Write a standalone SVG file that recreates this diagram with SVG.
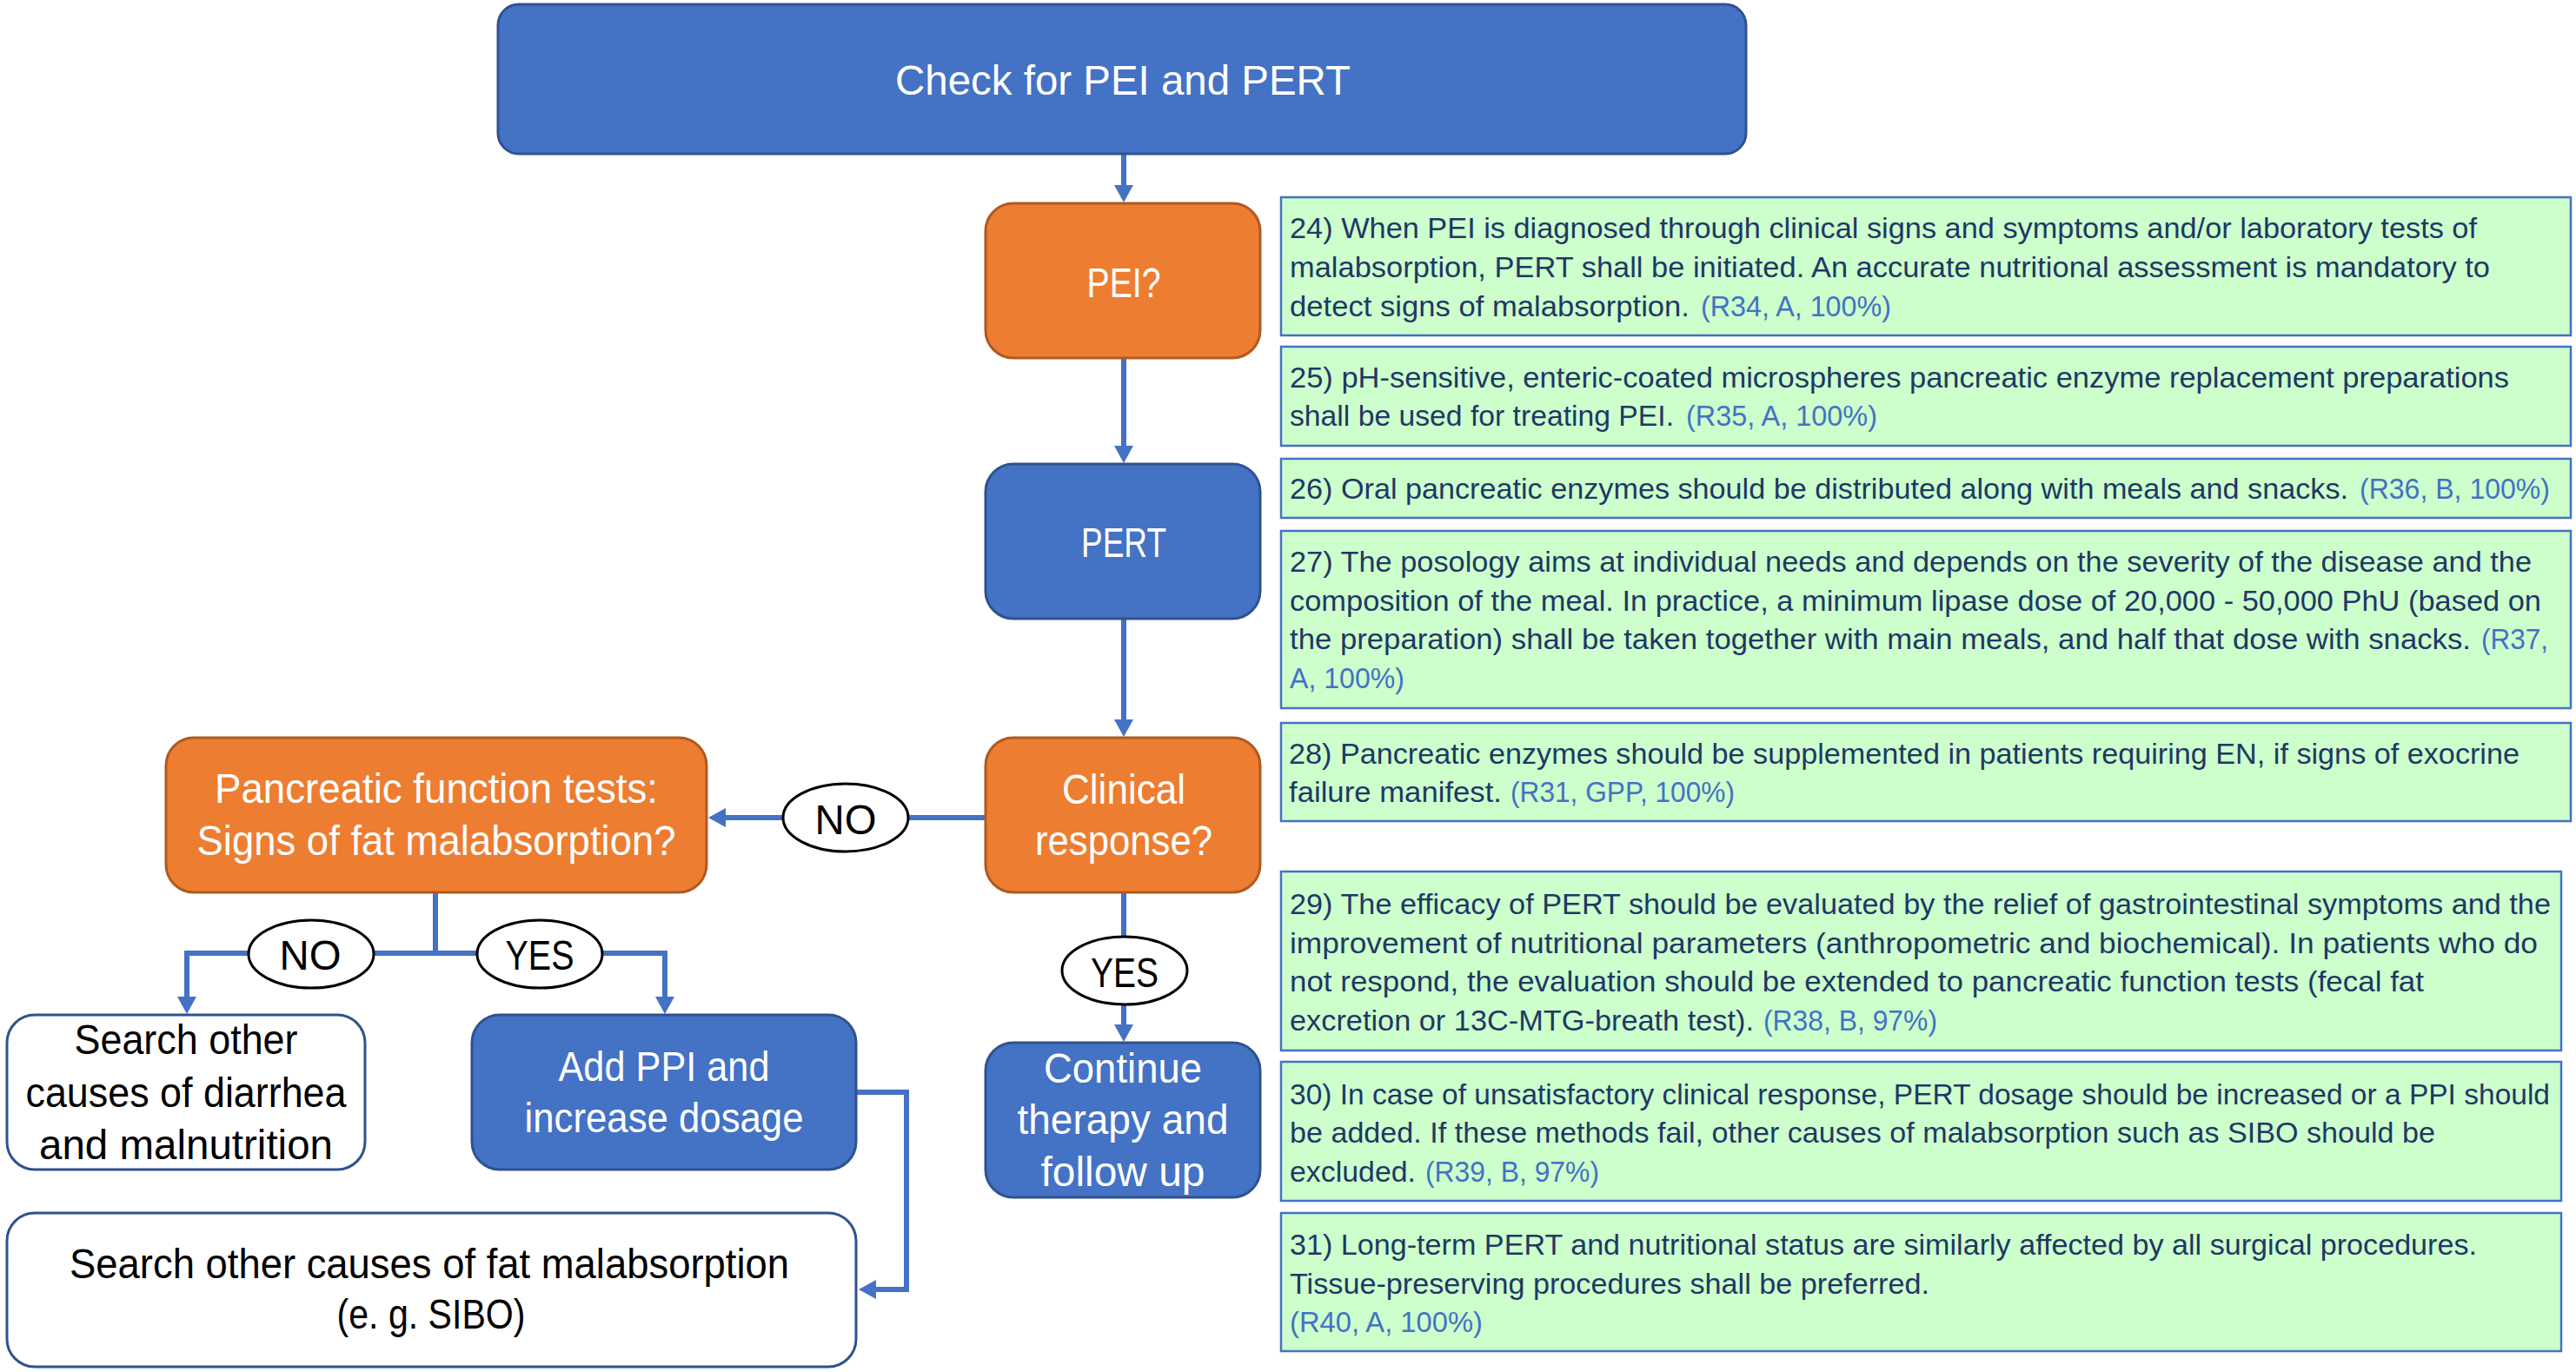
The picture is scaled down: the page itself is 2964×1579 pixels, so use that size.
<svg xmlns="http://www.w3.org/2000/svg" width="2964" height="1579" viewBox="0 0 2964 1579">
<style>
.blue{fill:#4472C4;stroke:#2F528F;stroke-width:3}
.orange{fill:#ED7D31;stroke:#AE5A21;stroke-width:3}
.white{fill:#FFFFFF;stroke:#2F528F;stroke-width:3}
.note{fill:#CCFFCC;stroke:#4472C4;stroke-width:2.5}
.lab{fill:#FFFFFF;stroke:#000000;stroke-width:3}
.conn{fill:none;stroke:#4472C4;stroke-width:6}
text{font-family:"Liberation Sans",Arial,sans-serif}
.nt{font-size:48px;fill:#FFFFFF;text-anchor:middle}
.nk{font-size:48px;fill:#000000;text-anchor:middle}
.d{font-size:34px;fill:#1F3864}
.r{font-size:34px;fill:#4472C4}
</style>
<defs>
<marker id="ah" markerUnits="userSpaceOnUse" markerWidth="20" markerHeight="22" refX="0" refY="11" orient="auto">
<path d="M0,0 L20,11 L0,22 z" fill="#4472C4"/>
</marker>
</defs>
<rect width="2964" height="1579" fill="#FFFFFF"/>

<g id="connectors">
<path class="conn" d="M1293,178 V213" marker-end="url(#ah)"/>
<path class="conn" d="M1293,412 V513" marker-end="url(#ah)"/>
<path class="conn" d="M1293,712 V828" marker-end="url(#ah)"/>
<path class="conn" d="M1134,941 H835" marker-end="url(#ah)"/>
<path class="conn" d="M501,1027 V1097"/>
<path class="conn" d="M504,1097 H215 V1147" marker-end="url(#ah)"/>
<path class="conn" d="M498,1097 H765 V1147" marker-end="url(#ah)"/>
<path class="conn" d="M1293,1027 V1179" marker-end="url(#ah)"/>
<path class="conn" d="M985,1257 H1043 V1484 H1008" marker-end="url(#ah)"/>
</g>

<g id="n-check">
<rect class="blue" x="573" y="5" width="1436" height="172" rx="24"/>
<text class="nt" x="1292" y="109" textLength="524" lengthAdjust="spacingAndGlyphs">Check for PEI and PERT</text>
</g>
<g id="n-pei">
<rect class="orange" x="1134" y="234" width="316" height="178" rx="32"/>
<text class="nt" x="1293" y="342" textLength="85" lengthAdjust="spacingAndGlyphs">PEI?</text>
</g>
<g id="n-pert">
<rect class="blue" x="1134" y="534" width="316" height="178" rx="32"/>
<text class="nt" x="1293" y="641" textLength="98" lengthAdjust="spacingAndGlyphs">PERT</text>
</g>
<g id="n-clinical">
<rect class="orange" x="1134" y="849" width="316" height="178" rx="32"/>
<text class="nt" x="1293" y="925" textLength="142" lengthAdjust="spacingAndGlyphs">Clinical</text>
<text class="nt" x="1293" y="984" textLength="204" lengthAdjust="spacingAndGlyphs">response?</text>
</g>
<g id="n-pancreatic">
<rect class="orange" x="191" y="849" width="622" height="178" rx="32"/>
<text class="nt" x="502" y="924" textLength="510" lengthAdjust="spacingAndGlyphs">Pancreatic function tests:</text>
<text class="nt" x="502" y="984" textLength="551" lengthAdjust="spacingAndGlyphs">Signs of fat malabsorption?</text>
</g>
<g id="n-search-diarrhea">
<rect class="white" x="8" y="1168" width="412" height="178" rx="32"/>
<text class="nk" x="214" y="1213" textLength="257" lengthAdjust="spacingAndGlyphs">Search other</text>
<text class="nk" x="214" y="1274" textLength="369" lengthAdjust="spacingAndGlyphs">causes of diarrhea</text>
<text class="nk" x="214" y="1334" textLength="338" lengthAdjust="spacingAndGlyphs">and malnutrition</text>
</g>
<g id="n-addppi">
<rect class="blue" x="543" y="1168" width="442" height="178" rx="32"/>
<text class="nt" x="764" y="1244" textLength="243" lengthAdjust="spacingAndGlyphs">Add PPI and</text>
<text class="nt" x="764" y="1303" textLength="321" lengthAdjust="spacingAndGlyphs">increase dosage</text>
</g>
<g id="n-continue">
<rect class="blue" x="1134" y="1200" width="316" height="178" rx="32"/>
<text class="nt" x="1292" y="1246" textLength="182" lengthAdjust="spacingAndGlyphs">Continue</text>
<text class="nt" x="1292" y="1305" textLength="243" lengthAdjust="spacingAndGlyphs">therapy and</text>
<text class="nt" x="1292" y="1365" textLength="189" lengthAdjust="spacingAndGlyphs">follow up</text>
</g>
<g id="n-search-fat">
<rect class="white" x="8" y="1396" width="977" height="177" rx="32"/>
<text class="nk" x="494" y="1471" textLength="828" lengthAdjust="spacingAndGlyphs">Search other causes of fat malabsorption</text>
<text class="nk" x="496" y="1529" textLength="217" lengthAdjust="spacingAndGlyphs">(e. g. SIBO)</text>
</g>

<g id="l-no-mid">
<ellipse class="lab" cx="973" cy="941" rx="72" ry="39"/>
<text class="nk" x="973" y="960" textLength="71" lengthAdjust="spacingAndGlyphs">NO</text>
</g>
<g id="l-no-low">
<ellipse class="lab" cx="358" cy="1098" rx="72" ry="39"/>
<text class="nk" x="357" y="1116" textLength="71" lengthAdjust="spacingAndGlyphs">NO</text>
</g>
<g id="l-yes-low">
<ellipse class="lab" cx="621" cy="1098" rx="72" ry="39"/>
<text class="nk" x="621" y="1116" textLength="79" lengthAdjust="spacingAndGlyphs">YES</text>
</g>
<g id="l-yes-right">
<ellipse class="lab" cx="1294" cy="1117" rx="72" ry="39"/>
<text class="nk" x="1294" y="1136" textLength="78" lengthAdjust="spacingAndGlyphs">YES</text>
</g>

<g id="note-24">
<rect class="note" x="1474" y="227" width="1484" height="159"/>
<text class="d" x="1484" y="274" textLength="1366" lengthAdjust="spacingAndGlyphs">24) When PEI is diagnosed through clinical signs and symptoms and/or laboratory tests of</text>
<text class="d" x="1484" y="319" textLength="1381" lengthAdjust="spacingAndGlyphs">malabsorption, PERT shall be initiated. An accurate nutritional assessment is mandatory to</text>
<text class="d" x="1484" y="364" textLength="460" lengthAdjust="spacingAndGlyphs">detect signs of malabsorption.</text>
<text class="r" x="1957" y="364" textLength="219" lengthAdjust="spacingAndGlyphs">(R34, A, 100%)</text>
</g>
<g id="note-25">
<rect class="note" x="1474" y="399" width="1484" height="114"/>
<text class="d" x="1484" y="446" textLength="1403" lengthAdjust="spacingAndGlyphs">25) pH-sensitive, enteric-coated microspheres pancreatic enzyme replacement preparations</text>
<text class="d" x="1484" y="490" textLength="442" lengthAdjust="spacingAndGlyphs">shall be used for treating PEI.</text>
<text class="r" x="1940" y="490" textLength="220" lengthAdjust="spacingAndGlyphs">(R35, A, 100%)</text>
</g>
<g id="note-26">
<rect class="note" x="1474" y="528" width="1484" height="68"/>
<text class="d" x="1484" y="574" textLength="1218" lengthAdjust="spacingAndGlyphs">26) Oral pancreatic enzymes should be distributed along with meals and snacks.</text>
<text class="r" x="2715" y="574" textLength="219" lengthAdjust="spacingAndGlyphs">(R36, B, 100%)</text>
</g>
<g id="note-27">
<rect class="note" x="1474" y="611" width="1484" height="204"/>
<text class="d" x="1484" y="658" textLength="1429" lengthAdjust="spacingAndGlyphs">27) The posology aims at individual needs and depends on the severity of the disease and the</text>
<text class="d" x="1484" y="703" textLength="1440" lengthAdjust="spacingAndGlyphs">composition of the meal. In practice, a minimum lipase dose of 20,000 - 50,000 PhU (based on</text>
<text class="d" x="1484" y="747" textLength="1359" lengthAdjust="spacingAndGlyphs">the preparation) shall be taken together with main meals, and half that dose with snacks.</text>
<text class="r" x="2855" y="747" textLength="77" lengthAdjust="spacingAndGlyphs">(R37,</text>
<text class="r" x="1484" y="792" textLength="132" lengthAdjust="spacingAndGlyphs">A, 100%)</text>
</g>
<g id="note-28">
<rect class="note" x="1474" y="832" width="1484" height="113"/>
<text class="d" x="1483" y="879" textLength="1416" lengthAdjust="spacingAndGlyphs">28) Pancreatic enzymes should be supplemented in patients requiring EN, if signs of exocrine</text>
<text class="d" x="1483" y="923" textLength="245" lengthAdjust="spacingAndGlyphs">failure manifest.</text>
<text class="r" x="1738" y="923" textLength="258" lengthAdjust="spacingAndGlyphs">(R31, GPP, 100%)</text>
</g>
<g id="note-29">
<rect class="note" x="1474" y="1003" width="1473" height="206"/>
<text class="d" x="1484" y="1052" textLength="1451" lengthAdjust="spacingAndGlyphs">29) The efficacy of PERT should be evaluated by the relief of gastrointestinal symptoms and the</text>
<text class="d" x="1484" y="1097" textLength="1436" lengthAdjust="spacingAndGlyphs">improvement of nutritional parameters (anthropometric and biochemical). In patients who do</text>
<text class="d" x="1484" y="1141" textLength="1305" lengthAdjust="spacingAndGlyphs">not respond, the evaluation should be extended to pancreatic function tests (fecal fat</text>
<text class="d" x="1484" y="1186" textLength="534" lengthAdjust="spacingAndGlyphs">excretion or 13C-MTG-breath test).</text>
<text class="r" x="2029" y="1186" textLength="200" lengthAdjust="spacingAndGlyphs">(R38, B, 97%)</text>
</g>
<g id="note-30">
<rect class="note" x="1474" y="1222" width="1473" height="160"/>
<text class="d" x="1484" y="1271" textLength="1450" lengthAdjust="spacingAndGlyphs">30) In case of unsatisfactory clinical response, PERT dosage should be increased or a PPI should</text>
<text class="d" x="1484" y="1315" textLength="1318" lengthAdjust="spacingAndGlyphs">be added. If these methods fail, other causes of malabsorption such as SIBO should be</text>
<text class="d" x="1484" y="1360" textLength="145" lengthAdjust="spacingAndGlyphs">excluded.</text>
<text class="r" x="1640" y="1360" textLength="200" lengthAdjust="spacingAndGlyphs">(R39, B, 97%)</text>
</g>
<g id="note-31">
<rect class="note" x="1474" y="1396" width="1473" height="159"/>
<text class="d" x="1484" y="1444" textLength="1366" lengthAdjust="spacingAndGlyphs">31) Long-term PERT and nutritional status are similarly affected by all surgical procedures.</text>
<text class="d" x="1484" y="1489" textLength="736" lengthAdjust="spacingAndGlyphs">Tissue-preserving procedures shall be preferred.</text>
<text class="r" x="1484" y="1533" textLength="222" lengthAdjust="spacingAndGlyphs">(R40, A, 100%)</text>
</g>
</svg>
